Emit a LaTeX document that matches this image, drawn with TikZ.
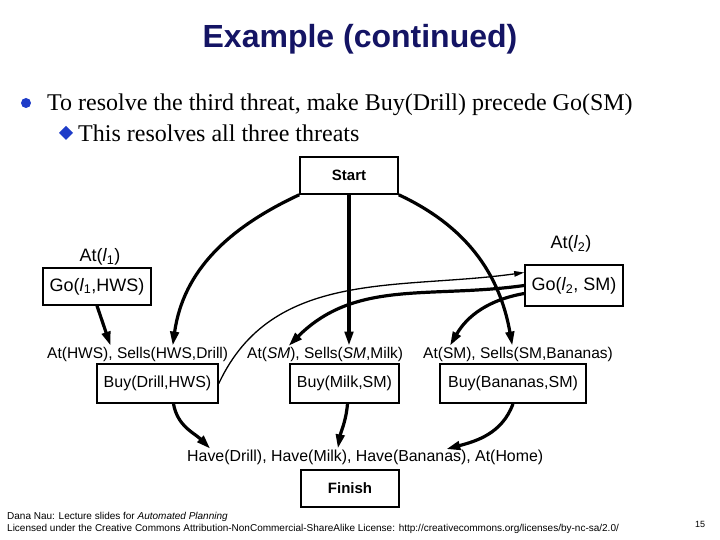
\documentclass[tikz,border=0pt]{standalone}
\usepackage{fontspec}
\setmainfont{Liberation Serif}
\setsansfont{Liberation Sans}
\usetikzlibrary{arrows.meta,positioning}
\definecolor{titleblue}{RGB}{20,20,100}
\definecolor{bulletblue}{RGB}{30,60,200}

\begin{document}
\begin{tikzpicture}[x=1pt,y=-1pt,
  box/.style={draw,line width=1.6pt,inner sep=0pt,font=\sffamily\fontsize{16}{19}\selectfont},
  golbl/.style={inner sep=0pt,font=\sffamily\fontsize{18}{21}\selectfont},
  lit/.style={inner sep=0pt,font=\sffamily\fontsize{15.5}{18}\selectfont},
  link/.style={line width=3.2pt,-{Triangle[length=14pt,width=8.5pt]},shorten >=1pt},
  order/.style={line width=1.3pt,-{Triangle[length=10pt,width=5.5pt]}}]
\useasboundingbox (0,0) rectangle (720,540);

\node[font=\sffamily\bfseries\fontsize{32}{38}\selectfont,text=titleblue] (title) at (360,39) {Example (continued)};

\fill[bulletblue] (26,103) circle (5pt);
\node[anchor=base west,inner sep=0pt,font=\fontsize{24}{28}\selectfont] (lineA) at (47,111) {To resolve the third threat, make Buy(Drill) precede Go(SM)};
\fill[bulletblue] (59,133) -- (66,126) -- (73,133) -- (66,140) -- cycle;
\node[anchor=base west,inner sep=0pt,font=\fontsize{24}{28}\selectfont] (lineB) at (78,142) {This resolves all three threats};

% steps
\node[box,minimum width=98pt,minimum height=37pt,font=\sffamily\bfseries\fontsize{15}{18}\selectfont] (start) at (349,175.5) {Start};
\node[box,minimum width=108pt,minimum height=37pt,font=\sffamily\fontsize{18}{21}\selectfont] (goA) at (97,286.5) {Go(\textit{l}\textsubscript{1},HWS)};
\node[box,minimum width=98pt,minimum height=41pt,font=\sffamily\fontsize{18}{21}\selectfont] (goB) at (574,285.5) {Go(\textit{l}\textsubscript{2}, SM)};
\node[box,minimum width=121pt,minimum height=39pt] (buyDrill) at (157.5,383.5) {Buy(Drill,HWS)};
\node[box,minimum width=109pt,minimum height=39pt] (buyMilk) at (344.5,383.5) {Buy(Milk,SM)};
\node[box,minimum width=146pt,minimum height=39pt] (buyBan) at (513,383.5) {Buy(Bananas,SM)};
\node[box,minimum width=98pt,minimum height=37pt,font=\sffamily\bfseries\fontsize{15}{18}\selectfont] (finish) at (350,488.5) {Finish};

\node[golbl] (atLA) at (100,257) {At(\textit{l}\textsubscript{1})};
\node[golbl] (atLB) at (571,244) {At(\textit{l}\textsubscript{2})};

% preconditions
\node[lit,anchor=west] (atHWS) at (47,354) {At(HWS),};
\node[lit,right=4pt of atHWS] (sellsHWS) {Sells(HWS,Drill)};
\node[lit,anchor=west] (atSMa) at (247,354) {At(\textit{SM}),};
\node[lit,right=4pt of atSMa] (sellsMilk) {Sells(\textit{SM},Milk)};
\node[lit,anchor=west] (atSMb) at (423,354) {At(SM),};
\node[lit,right=4pt of atSMb] (sellsBan) {Sells(SM,Bananas)};

\node[lit,anchor=west,font=\sffamily\fontsize{15.9}{18}\selectfont] (haveDrill) at (187,457) {Have(Drill),};
\node[lit,right=4pt of haveDrill,font=\sffamily\fontsize{15.9}{18}\selectfont] (haveMilk) {Have(Milk),};
\node[lit,right=4pt of haveMilk,font=\sffamily\fontsize{15.9}{18}\selectfont] (haveBan) {Have(Bananas),};
\node[lit,right=4pt of haveBan,font=\sffamily\fontsize{15.9}{18}\selectfont] (atHome) {At(Home)};

% causal links
\draw[link] (start.south west) to[out=205,in=82] (sellsHWS.north);
\draw[link] (start.south) -- (start.south |- sellsMilk.north);
\draw[link] (start.south east) to[out=-25,in=100] ([xshift=-34pt]sellsBan.north);
\draw[link] (goA.south) -- ([xshift=-2pt]atHWS.north east);
\draw[link] (goB.west) to[out=188,in=45] ([xshift=-12pt]atSMa.north east);
\draw[link] ([yshift=-8pt]goB.west) to[out=190,in=60] (atSMb.north);
\draw[link] ([xshift=16pt]buyDrill.south) to[out=-80,in=135] ([xshift=-16pt]haveDrill.north);
\draw[link] ([xshift=3pt]buyMilk.south) to[out=-95,in=80] ([xshift=-14pt]haveMilk.north east);
\draw[link] (buyBan.south) to[out=-110,in=15] ([xshift=32pt]haveBan.north);

% ordering constraint
\draw[order] (buyDrill.east) to[out=65,in=188] ([yshift=13pt]goB.west);

\node[anchor=base west,inner sep=0pt,font=\sffamily\fontsize{10}{12}\selectfont] (credA) at (7,519) {Dana Nau: Lecture slides for \textit{Automated Planning}};
\node[anchor=base west,inner sep=0pt,font=\sffamily\fontsize{10}{12}\selectfont] (credB) at (7,531) {Licensed under the Creative Commons Attribution-NonCommercial-ShareAlike License: http://creativecommons.org/licenses/by-nc-sa/2.0/};
\node[anchor=base,inner sep=0pt,font=\sffamily\fontsize{9}{10}\selectfont] (pageNo) at (700,527) {15};
\end{tikzpicture}
\end{document}
